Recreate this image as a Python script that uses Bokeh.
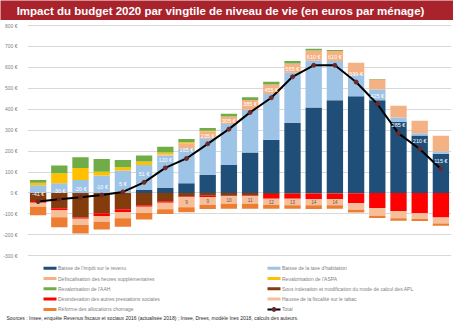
from bokeh.plotting import figure
from bokeh.models import (ColumnDataSource, FixedTicker, PrintfTickFormatter, Label, Range1d)
from bokeh.layouts import column
from bokeh.embed import file_html
from bokeh.resources import INLINE
from bokeh.core.properties import value
import numpy as np

# ---------------- data ----------------
vingtiles = list(range(1, 21))

impot_revenu = [0, 0, 0, 0, 0, 14, 24, 47, 86, 134, 193, 254, 334, 409, 443, 462, 443, 339, 275, 187]
taxe_habitation = [37, 46, 62, 83, 107, 120, 155, 163, 176, 195, 205, 219, 240, 224, 187, 104, 51, 22, 11, 11]
heures_sup = [0, 0, 0, 0, 0, 0, 5, 28, 33, 37, 46, 45, 45, 48, 48, 56, 48, 56, 59, 75]
aspa = [12, 48, 58, 19, 16, 16, 10, 4, 2, 0, 0, 0, 0, 0, 0, 0, 0, 0, 0, 0]
aah = [13, 37, 51, 61, 35, 29, 27, 16, 13, 13, 13, 13, 11, 8, 5, 0, 2, 0, 0, 0]

apl = [-38, -73, -117, -97, -78, -58, -40, -17, -13, -13, -12, -5, -3, -2, -2, -1, 0, 0, 0, 0]
desindexation = [-8, -8, -6, -13, -13, -8, -6, -3, -6, -3, -4, -22, -25, -27, -27, -47, -72, -86, -97, -117]
tabac = [-20, -35, -30, -27, -30, -29, -32, -48, -37, -35, -35, -30, -30, -30, -30, -32, -37, -35, -27, -29]
chomage = [-40, -48, -40, -37, -40, -32, -22, -24, -21, -24, -24, -18, -17, -17, -16, -13, -11, -11, -10, -11]

total = [-41, -30, -20, -10, 5, 51, 120, 165, 235, 305, 385, 455, 555, 610, 610, 530, 425, 285, 210, 115]
tabac_labels = ["", "", "", "", "", "", "", "9", "9", "10", "11", "12", "13", "14", "14", "", "", "", "", ""]

y_ticks = list(range(-300, 900, 100))

legend_left = ["Baisse de l'impôt sur le revenu", "Défiscalisation des heures supplémentaires",
               "Revalorisation de l'AAH", "Désindexation des autres prestations sociales",
               "Réforme des allocations chomage"]
legend_right = ["Baisse de la taxe d'habitation", "Revalorisation de l'ASPA",
                "Sous indexation et modification du mode de calcul des APL",
                "Hausse de la fiscalité sur le tabac", "Total"]

C = {
    "ir": "#1F4E79", "th": "#9DC3E6", "hs": "#F4B183", "aspa": "#FFC000", "aah": "#70AD47",
    "apl": "#843C0C", "des": "#FF0000", "tab": "#F7BE9A", "cho": "#ED7D31",
}
legend_left_colors = [C["ir"], C["hs"], C["aah"], C["des"], C["cho"]]
legend_right_colors = [C["th"], C["aspa"], C["apl"], C["tab"], None]

FONT = "Liberation Sans"
RED = "#A8232B"
MARK = "#6B2A2A"

src = ColumnDataSource(dict(
    x=vingtiles, ir=impot_revenu, th=taxe_habitation, hs=heures_sup, aspa=aspa, aah=aah,
    apl=apl, des=desindexation, tab=tabac, cho=chomage, total=total,
    total_lbl=[f"{v} €" for v in total],
    tab_mid=list(np.array(apl) + np.array(desindexation) + np.array(tabac) / 2.0),
    tab_lbl=tabac_labels,
))

FL, FR = 24, 451  # main frame left / right in page pixels


def deco_fig(h, bg="white"):
    f = figure(width=453, height=h, x_range=Range1d(0, 453), y_range=Range1d(h, 0),
               toolbar_location=None, output_backend="svg",
               x_axis_location=None, y_axis_location=None, frame_align=False,
               min_border=0, background_fill_color=bg, border_fill_color=bg)
    f.outline_line_color = None
    f.grid.visible = False
    return f


# ---------------- title ----------------
pt = deco_fig(20, RED)
pt.add_layout(Label(x=220, y=10, text="Impact du budget 2020 par vingtile de niveau de vie (en euros par ménage)",
                    text_align="center", text_baseline="middle", text_color="white",
                    text_font=FONT, text_font_style="bold", text_font_size="11.5px"))

# ---------------- main ----------------
p = figure(width=453, height=242, x_range=Range1d(0.5, 20.5), y_range=Range1d(-332, 824),
           toolbar_location=None, output_backend="svg", x_axis_location=None, frame_align=False,
           min_border_left=FL, min_border_right=453 - FR, min_border_top=0, min_border_bottom=0)
p.outline_line_color = None
p.xgrid.visible = False
p.ygrid.grid_line_color = "#D9D9D9"
p.ygrid.grid_line_width = 1
p.yaxis.ticker = FixedTicker(ticks=y_ticks)
p.yaxis.formatter = PrintfTickFormatter(format="%d €")
p.yaxis.axis_line_color = None
p.yaxis.major_tick_line_color = None
p.yaxis.minor_tick_line_color = None
p.yaxis.major_label_text_font_size = "5px"
p.yaxis.major_label_text_color = "#7F7F7F"
p.yaxis.major_label_text_font = FONT
p.yaxis.major_label_standoff = 4

w = 0.77
pos_keys = ["ir", "th", "hs", "aspa", "aah"]
neg_keys = ["apl", "des", "tab", "cho"]
p.vbar_stack(pos_keys, x="x", width=w, source=src, color=[C[k] for k in pos_keys], line_width=0)
p.vbar_stack(neg_keys, x="x", width=w, source=src, color=[C[k] for k in neg_keys], line_width=0)

p.text(x="x", y="tab_mid", text="tab_lbl", source=src, text_align="center", text_baseline="middle",
       text_font_size="4.5px", text_color="#595959", text_font=value(FONT))

p.line(x="x", y="total", source=src, line_color="black", line_width=2)
p.scatter(x="x", y="total", source=src, size=4, marker="circle", fill_color=MARK, line_color=MARK)
p.text(x="x", y="total", text="total_lbl", source=src, text_align="center", text_baseline="middle",
       y_offset=-8, text_font_size="5.5px", text_color="white", text_font=value(FONT))

# ---------------- legend + sources ----------------
pl = deco_fig(59)
row_y = [5.7 + 10.3 * i for i in range(5)]
sw = 13
for x0, labels, cols in ((43, legend_left, legend_left_colors), (267, legend_right, legend_right_colors)):
    bars = [(y, c) for y, c in zip(row_y, cols) if c is not None]
    pl.rect(x=[x0 + sw / 2] * len(bars), y=[b[0] for b in bars], width=sw, height=3,
            width_units="screen", height_units="screen",
            fill_color=[b[1] for b in bars], line_color=None)
    pl.text(x=[x0 + sw + 1.5] * len(labels), y=row_y, text=labels, text_align="left",
            text_baseline="middle", text_font_size="5px", text_color="#7F7F7F", text_font=value(FONT))
# Total swatch: line with marker
pl.line(x=[267, 267 + sw], y=[row_y[4], row_y[4]], line_color="black", line_width=2)
pl.scatter(x=[267 + sw / 2], y=[row_y[4]], size=4, marker="circle", fill_color=MARK, line_color=MARK)

pl.add_layout(Label(x=6, y=55, text="Sources : Insee, enquête Revenus fiscaux et sociaux 2016 (actualisée 2018) ; Insee, Drees, modèle Ines 2018, calculs des auteurs.",
                    text_align="left", text_baseline="middle", text_color="#262626",
                    text_font=FONT, text_font_size="5px"))

# ---------------- bottom rule ----------------
pb = deco_fig(2, RED)

layout = column(pt, p, pl, pb, spacing=0)
open("out.html", "w").write(file_html(layout, INLINE))
